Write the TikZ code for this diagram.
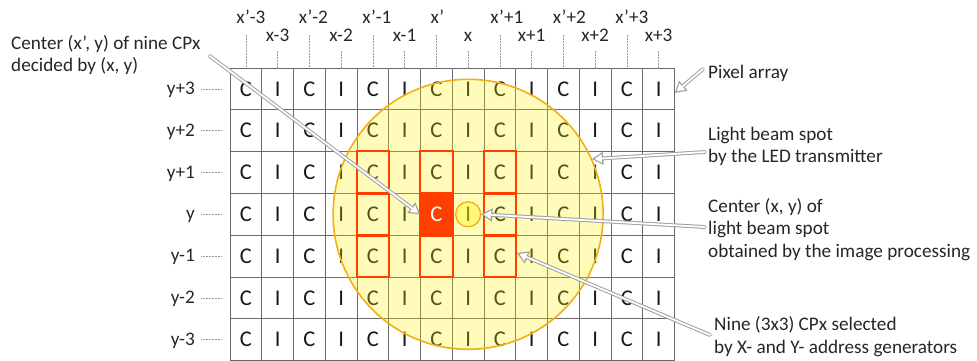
\documentclass[tikz,border=0pt]{standalone}
\usepackage{fontspec}
\setmainfont{Carlito}
\usetikzlibrary{arrows.meta}
\definecolor{gridc}{RGB}{105,105,105}
\definecolor{redc}{RGB}{255,62,0}
\definecolor{goldc}{RGB}{240,175,20}
\definecolor{arrc}{RGB}{160,160,160}
\tikzset{
  cell/.style={draw=gridc, line width=0.8pt, minimum width=31.75pt, minimum height=41.8pt,
    inner sep=0pt, font=\fontsize{22.5}{22.5}\selectfont, text=black!90},
  lbl/.style={font=\fontsize{19.2}{23}\selectfont, inner sep=0pt, text=black!85},
  tick/.style={draw=black!40, line width=0.6pt, dash pattern=on 0.6pt off 0.9pt},
  redbox/.style={draw=redc, line width=2pt},
  hollowA/.style={draw=arrc, line width=3.8pt, line cap=round,
    -{Triangle[length=11pt,width=13pt,line width=0.1pt]}},
  hollowB/.style={draw=white, line width=1.8pt, line cap=round, shorten >=2.6pt,
    -{Triangle[length=7pt,width=8.6pt,line width=0.1pt]}},
}
\newcommand\hollowarrow[2]{\draw[hollowA] #1 -- #2; \draw[hollowB] #1 -- #2;}
\begin{document}
\begin{tikzpicture}[x=1pt,y=-1pt]
\useasboundingbox (0,0) rectangle (977,361);
% cells
\foreach \i in {0,...,13}{\foreach \j in {0,...,6}{
  \ifnum\numexpr\i*10+\j\relax=63 \else
    \node[cell] (c-\i-\j) at (230+\i*31.75+15.875, 68+\j*41.8+20.9) {\ifodd\i\relax I\else C\fi};
  \fi
}}
% big light spot
\node[circle, draw=goldc, line width=1.6pt, fill=yellow, fill opacity=0.27,
      minimum size=270pt, inner sep=0pt] (bigc) at (230+7*31.75+15.875, 68+3*41.8+20.9) {};
% center CPx
\node[cell, fill=redc, draw=redc, text=white] (c-6-3) at (230+6*31.75+15.875, 68+3*41.8+20.9) {C};
% nine selected CPx
\foreach \i in {4,6,8}{\foreach \j in {2,3,4}{
  \draw[redbox] (c-\i-\j.south west) rectangle (c-\i-\j.north east);
}}
% small spot center
\node[circle, draw=goldc, line width=1.3pt, fill=yellow, fill opacity=0.35,
      minimum size=25pt, inner sep=0pt] (spot) at (c-7-3) {};
% column labels
\foreach \i/\t/\dx in {0/x’-3/5, 2/x’-2/4, 4/x’-1/4, 6/x’/1, 8/x’+1/7, 10/x’+2/6, 12/x’+3/5}{
  \node[lbl, anchor=base] (xp-\i) at (230+\i*31.75+15.875+\dx, 24) {\t};
  \draw[tick] (230+\i*31.75+15.875, 35) -- (c-\i-0.north);
}
\foreach \i/\t in {1/x-3, 3/x-2, 5/x-1, 7/x, 9/x+1, 11/x+2, 13/x+3}{
  \node[lbl, anchor=base] (xx-\i) at (230+\i*31.75+15.875, 42) {\t};
  \draw[tick] (230+\i*31.75+15.875, 51) -- (c-\i-0.north);
}
% row labels
\foreach \j/\t in {0/y+3, 1/y+2, 2/y+1, 3/y, 4/y-1, 5/y-2, 6/y-3}{
  \node[lbl, anchor=base east] (yl-\j) at (195, 68+\j*41.8+20.9+5.5) {\t};
  \draw[tick] (201, 68+\j*41.8+20.9) -- (222, 68+\j*41.8+20.9);
}
% text labels
\node[lbl, anchor=base west] (lc1) at (11,50) {Center (x’, y) of nine CPx};
\node[lbl, anchor=base west] (lc2) at (11,72) {decided by (x, y)};
\node[lbl, anchor=base west] (pix) at (708,78) {Pixel array};
\node[lbl, anchor=base west] (lb1) at (708,140) {Light beam spot};
\node[lbl, anchor=base west] (lb2) at (708,162) {by the LED transmitter};
\node[lbl, anchor=base west] (cc1) at (708,212) {Center (x, y) of};
\node[lbl, anchor=base west] (cc2) at (708,234.5) {light beam spot};
\node[lbl, anchor=base west] (cc3) at (708,257) {obtained by the image processing};
\node[lbl, anchor=base west] (n1) at (714,330) {Nine (3x3) CPx selected};
\node[lbl, anchor=base west] (n2) at (714,353) {by X- and Y- address generators};
% arrows
\hollowarrow{([shift={(9pt,-6pt)}]lc1.base east)}{(c-6-3.west)}
\hollowarrow{([shift={(-5pt,9pt)}]pix.base west)}{([yshift=-4pt]c-13-0.east)}
\hollowarrow{([shift={(-3pt,-12pt)}]lb1.base west)}{(bigc.24.5)}
\hollowarrow{([shift={(-3pt,-15pt)}]cc1.base west)}{(spot.east)}
\hollowarrow{([shift={(-4pt,-5pt)}]n1.base west)}{([shift={(1pt,3pt)}]c-8-4.east)}
\end{tikzpicture}
\end{document}
